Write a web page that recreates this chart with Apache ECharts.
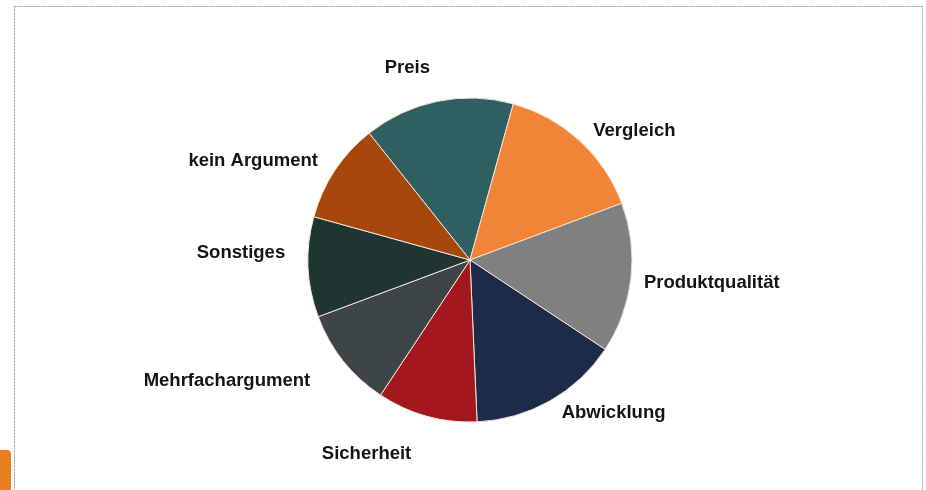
<!DOCTYPE html>
<html>
<head>
<meta charset="utf-8">
<script src="https://cdn.jsdelivr.net/npm/echarts@6/dist/echarts.min.js"></script>
<style>
html,body{margin:0;padding:0;background:#fff;}
#chart{width:926px;height:490px;}
</style>
</head>
<body>
<div id="chart"></div>
<script>
// Data
const categories = ['Preis', 'Vergleich', 'Produktqualität', 'Abwicklung', 'Sicherheit', 'Mehrfachargument', 'Sonstiges', 'kein Argument'];
const shares = [15, 15, 15, 15, 10, 10, 10, 10];

// Styles
const sliceColors = ['#2e6062', '#f28438', '#808080', '#1c2b47', '#a3171e', '#3d4547', '#1e3532', '#a6470c'];
const labelLineLength = [34, 13, 8, 14, 39, 32, 14, 18];
const labelLineLength2 = [0, 0, 0, 0, 0, 3, 4, 0];
const labelNudgeX = [4, 0, 0, 0, 0, 0, 0, 3];
const labelNudgeY = [0, 0, 4, 0, 0, 0, -15, 0];

const chart = echarts.init(document.getElementById('chart'), null, {renderer: 'canvas'});

const seriesData = categories.map((name, i) => ({
  name: name,
  value: shares[i],
  itemStyle: {color: sliceColors[i]},
  labelLine: {length: labelLineLength[i], length2: labelLineLength2[i]}
}));

chart.setOption({
  backgroundColor: '#ffffff',
  animation: false,
  graphic: [
    {
      type: 'rect',
      shape: {x: 14.5, y: 6.5, width: 908, height: 500},
      style: {fill: 'none', stroke: '#9c9c9c', lineWidth: 1, lineDash: [2, 1]},
      silent: true
    },
    {
      type: 'rect',
      shape: {x: 0, y: 450, width: 11, height: 45, r: [0, 4, 0, 0]},
      style: {fill: '#e8801f'},
      silent: true
    }
  ],
  series: [{
    type: 'pie',
    center: [470, 260],
    radius: 162,
    startAngle: 128.5,
    clockwise: true,
    avoidLabelOverlap: false,
    itemStyle: {borderColor: '#f3e2d6', borderWidth: 1},
    label: {
      show: true,
      position: 'outside',
      formatter: '{b}',
      color: '#141414',
      fontFamily: 'Liberation Sans, Arial, sans-serif',
      fontWeight: 'bold',
      fontSize: 18.5,
      distanceToLabelLine: 5
    },
    labelLine: {show: false},
    labelLayout: function (params) {
      const i = params.dataIndex;
      return {dx: labelNudgeX[i], dy: labelNudgeY[i]};
    },
    emphasis: {disabled: true},
    data: seriesData
  }]
});
</script>
</body>
</html>
